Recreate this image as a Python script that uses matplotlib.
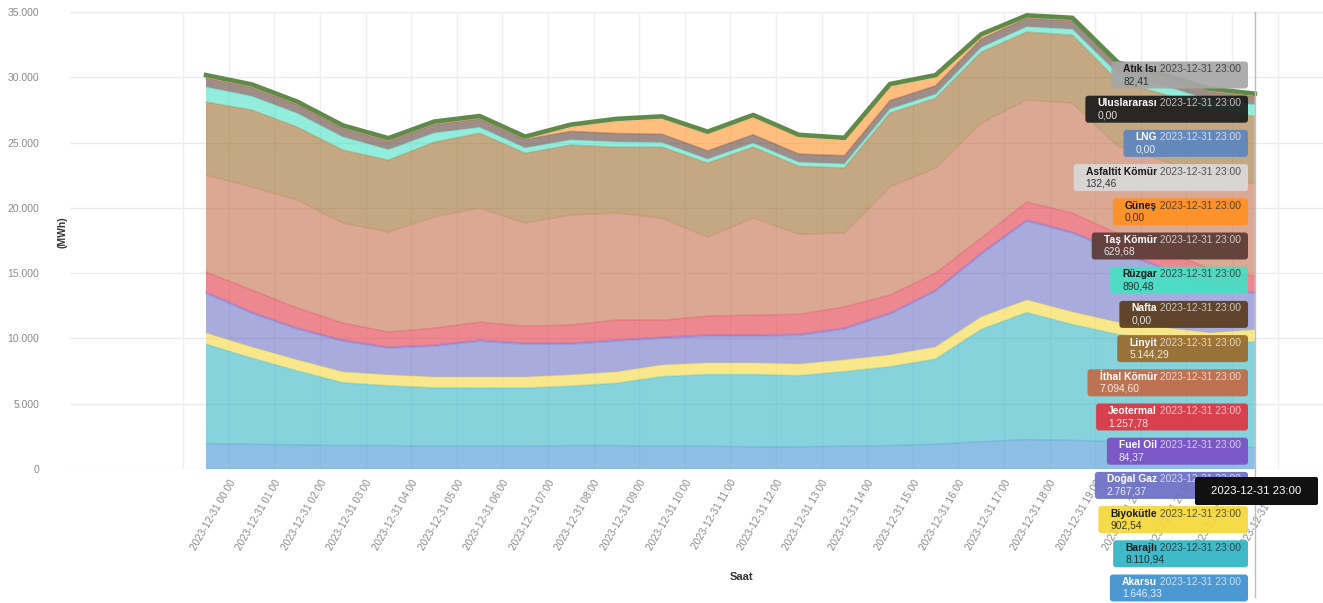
import numpy as np
import matplotlib.pyplot as plt
from matplotlib.patches import FancyBboxPatch
from matplotlib.transforms import IdentityTransform, ScaledTranslation

plt.rcParams['font.family'] = ['Liberation Sans', 'DejaVu Sans']

W, H = 1323, 603

saat = [f"2023-12-31 {h:02d}:00" for h in range(24)]

akarsu = [1950, 1900, 1850, 1800, 1800, 1750, 1750, 1750, 1800, 1800, 1750, 1750,
          1700, 1700, 1750, 1800, 1900, 2100, 2250, 2200, 2100, 2000, 1850, 1646.33]
barajli = [7610, 6600, 5670, 4810, 4580, 4470, 4460, 4450, 4550, 4770, 5330, 5490,
           5540, 5450, 5710, 6030, 6520, 8590, 9730, 8870, 8200, 7910, 7660, 8110.94]
biyokutle = [850, 840, 830, 820, 820, 820, 830, 840, 850, 860, 880, 880,
             880, 880, 890, 900, 920, 950, 960, 950, 930, 920, 910, 902.54]
dogalgaz = [3050, 2590, 2360, 2360, 2050, 2360, 2740, 2510, 2360, 2360, 2050, 2050,
            2050, 2200, 2360, 3130, 4270, 4810, 6040, 6040, 5400, 4500, 3600, 2767.37]
fueloil = [92, 91, 90, 90, 89, 89, 90, 90, 90, 90, 91, 91,
           90, 90, 90, 90, 90, 89, 89, 88, 86, 85, 85, 84.37]
jeotermal = [1530, 1690, 1530, 1300, 1150, 1300, 1380, 1300, 1380, 1530, 1300, 1450,
             1530, 1530, 1610, 1380, 1300, 1150, 1380, 1450, 1300, 1290, 1270, 1257.78]
ithal = [7430, 7890, 8270, 7660, 7660, 8500, 8730, 7890, 8420, 8190, 7810, 6050,
         7430, 6130, 5670, 8270, 8040, 8800, 7810, 8420, 6700, 6900, 7000, 7094.60]
linyit = [5590, 5900, 5590, 5590, 5510, 5740, 5740, 5360, 5360, 5050, 5440, 5670,
          5440, 5210, 4980, 5670, 5360, 5440, 5210, 5210, 5000, 5100, 5150, 5144.29]
nafta = [0] * 24
ruzgar = [1150, 1050, 1050, 1000, 800, 700, 450, 400, 400, 400, 350, 300,
          300, 300, 300, 300, 300, 350, 400, 450, 550, 650, 760, 890.48]
taskomur = [700, 690, 680, 670, 660, 660, 650, 650, 650, 650, 640, 640,
            640, 640, 640, 650, 650, 650, 660, 660, 650, 640, 635, 629.68]
gunes = [0, 0, 0, 0, 0, 0, 0, 0, 300, 900, 1150, 1250,
         1300, 1250, 1150, 1050, 600, 150, 0, 0, 0, 0, 0, 0]
asfaltit = [135, 135, 135, 135, 135, 135, 135, 135, 135, 135, 135, 135,
            135, 135, 135, 135, 135, 135, 135, 135, 130, 130, 132, 132.46]
lng = [0] * 24
uluslararasi = [0] * 24
atikisi = [80, 80, 80, 80, 80, 80, 80, 80, 80, 80, 80, 80,
           80, 80, 80, 80, 80, 80, 80, 80, 80, 80, 82, 82.41]

# stacking order, bottom first: (name, values, colour, tooltip text colour)
series = [
    ("Akarsu", akarsu, '#3b8fd0', 'white'),
    ("Barajlı", barajli, '#2fb4c4', '#1a1a1a'),
    ("Biyokütle", biyokutle, '#f5d838', '#1a1a1a'),
    ("Doğal Gaz", dogalgaz, '#6a6ec4', 'white'),
    ("Fuel Oil", fueloil, '#7a50c4', 'white'),
    ("Jeotermal", jeotermal, '#e03342', 'white'),
    ("İthal Kömür", ithal, '#c26b45', 'white'),
    ("Linyit", linyit, '#9a6a2a', 'white'),
    ("Nafta", nafta, '#5a3b1c', 'white'),
    ("Rüzgar", ruzgar, '#45e0c5', '#1a1a1a'),
    ("Taş Kömür", taskomur, '#5a3b36', 'white'),
    ("Güneş", gunes, '#ff9020', '#1a1a1a'),
    ("Asfaltit Kömür", asfaltit, '#d9d9d9', '#1a1a1a'),
    ("LNG", lng, '#5d86c0', 'white'),
    ("Uluslararası", uluslararasi, '#1c1c1c', 'white'),
    ("Atık Isı", atikisi, '#a6a6a6', '#1a1a1a'),
]


def tr_num(v):
    s = f"{v:,.2f}"
    return s.replace(',', 'X').replace('.', ',').replace('X', '.')


fig = plt.figure(figsize=(W / 100, H / 100), dpi=100)
ax = fig.add_axes([70 / W, 1 - 469 / H, (W - 70) / W, (469 - 12) / H])

x = np.arange(24)
vals = np.array([s[1] for s in series], dtype=float)
cols = [s[2] for s in series]

ax.stackplot(x, vals, colors=cols, alpha=0.58, linewidth=0, zorder=2)
cum = np.cumsum(vals, axis=0)
for k in range(len(series)):
    if vals[k].max() > 0:
        ax.plot(x, cum[k], color=cols[k], lw=1, alpha=0.3, zorder=3)
ax.plot(x, cum[-1], color='#5f8a4a', lw=3.3, zorder=4, solid_joinstyle='round')

ax.set_xlim((70 - 206) / 45.6, (W - 206) / 45.6)
ax.set_ylim(0, 35000)

ax.set_yticks(range(0, 35001, 5000))
ax.set_yticklabels([f"{v:,}".replace(',', '.') for v in range(0, 35001, 5000)])
ax.yaxis.grid(True, color='#ebebeb', lw=1)
ax.vlines(np.arange(-0.5, 24), 0, 35000, color='#efefef', lw=1, zorder=1)
ax.set_axisbelow(True)
for sp in ax.spines.values():
    sp.set_visible(False)

ax.tick_params(axis='y', length=0, pad=22, labelsize=7.5, labelcolor='#8a8a8a')
ax.tick_params(axis='x', length=0, pad=8)
ax.set_xticks(x + 0.5)
ax.set_xticklabels(saat, rotation=60, ha='right', va='center', rotation_mode='anchor',
                   fontsize=7.2, color='#8a8a8a')
for lab in ax.get_xticklabels():
    lab.set_transform(lab.get_transform() + ScaledTranslation(4 / 100, 0, fig.dpi_scale_trans))

# axis pointer at the last hour
ax.axvline(23, ymin=-0.28, ymax=1, color='#bdbdbd', lw=1, zorder=5, clip_on=False)

fig.text(62 / W, 1 - 232 / H, "(MWh)", rotation=90, ha='center', va='center',
         fontsize=7.5, fontweight='bold', color='#333333')
fig.text(742 / W, 1 - 577 / H, "Saat", ha='center', va='center',
         fontsize=8, fontweight='bold', color='#333333')

# tooltip boxes
fig.canvas.draw()
rend = fig.canvas.get_renderer()
idt = IdentityTransform()
x_end = 1241
fs = 7.4
for k, (name, v, col, tcol) in enumerate(reversed(series)):
    yc = H - (75 + 34.2 * k)
    t_date = fig.text(x_end, yc + 6, ' ' + saat[-1], transform=idt, ha='right', va='center',
                      fontsize=fs, color=tcol, alpha=0.7, zorder=11)
    x0 = t_date.get_window_extent(rend).x0
    t_name = fig.text(x0, yc + 6, name, transform=idt, ha='right', va='center',
                      fontsize=fs, fontweight='bold', color=tcol, zorder=11)
    x1 = t_name.get_window_extent(rend).x0
    fig.text(x1, yc - 6, tr_num(v[-1]), transform=idt, ha='left', va='center',
             fontsize=fs, color=tcol, alpha=0.85, zorder=11)
    box = FancyBboxPatch((x1 - 12, yc - 13.5), 1248 - (x1 - 12), 27,
                         boxstyle='round,pad=0,rounding_size=3', transform=idt,
                         fc=col, ec='none', alpha=0.92, zorder=10)
    fig.add_artist(box)

# axis pointer label
ptr = FancyBboxPatch((1195, H - 505), 123, 28, boxstyle='round,pad=0,rounding_size=2',
                     transform=idt, fc='#111111', ec='none', zorder=12)
fig.add_artist(ptr)
fig.text(1256, H - 491, saat[-1], transform=idt, ha='center', va='center',
         fontsize=8.2, color='white', zorder=13)

fig.savefig('out.png', dpi=100)
